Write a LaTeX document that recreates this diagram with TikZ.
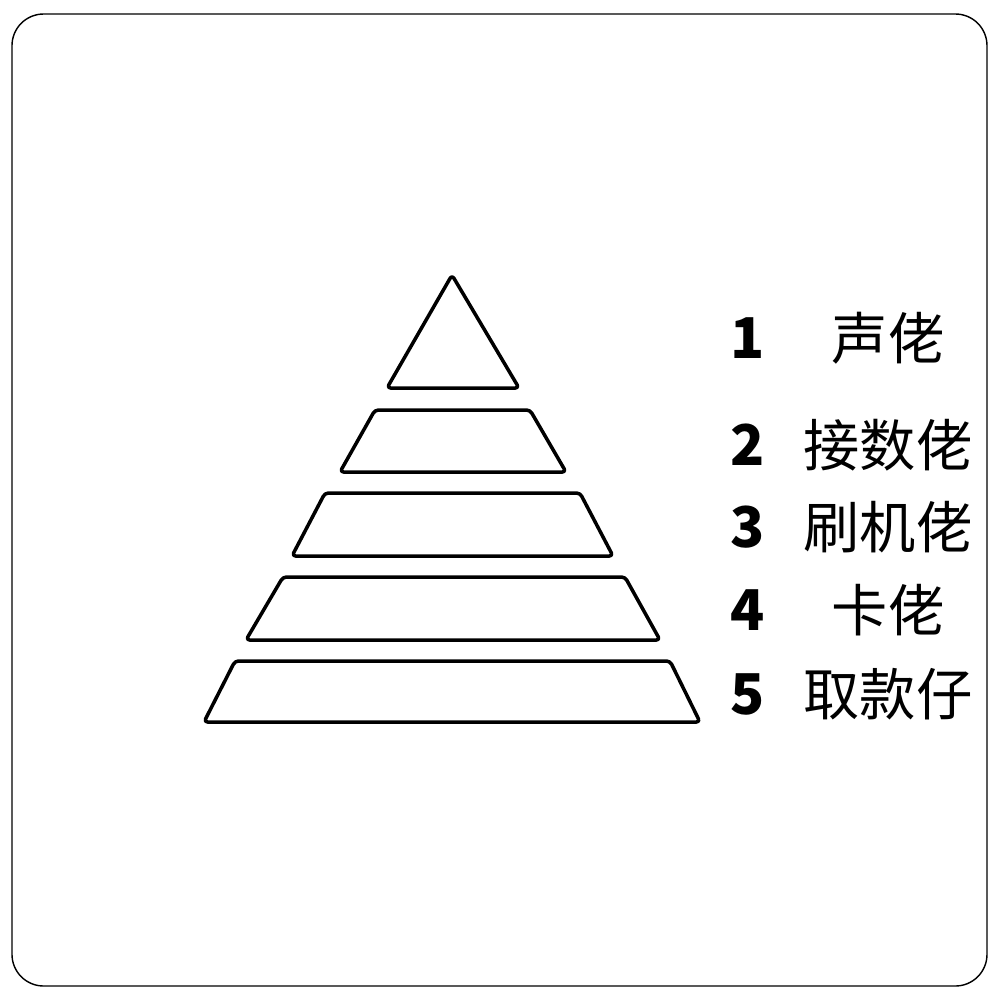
\documentclass[tikz,border=0pt]{standalone}
\usepackage{fontspec}
\setmainfont{Noto Sans CJK SC}
\definecolor{kuang}{HTML}{000000}

\begin{document}
\begin{tikzpicture}[x=0.1mm, y=-0.1mm,
    ceng/.style={draw=kuang, line width=1pt, rounded corners=1pt, line join=round},
    hao/.style={font=\fontsize{16}{18}\selectfont\bfseries, anchor=center},
    ming/.style={font=\fontsize{16}{18}\selectfont, anchor=center}]
    \useasboundingbox (0, 0) rectangle (1000, 1000);
    \draw[draw=kuang, thin, rounded corners=9pt] (12, 14) rectangle (987, 986);

    % top of the pyramid
    \draw[ceng] (452, 275) -- (519, 388) -- (387, 388) -- cycle;
    % the four lower layers
    \foreach \a / \b / \ya / \c / \d / \yb in {375/530/410/340/566/472, 325/580/493/292/613/556, 283/625/577/246/660/640, 235/670/661/204/700/722}
        \draw[ceng] (\a, \ya) -- (\b, \ya) -- (\d, \yb) -- (\c, \yb) -- cycle;

    \foreach \n / \y / \t in {1/338/声佬, 2/445/接数佬, 3/527/刷机佬, 4/610/卡佬, 5/694/取款仔}
    {
        \node[hao] (hao\n) at (748, \y) {\n};
        \node[ming] (ming\n) at (888, \y) {\t};
    }
\end{tikzpicture}
\end{document}
